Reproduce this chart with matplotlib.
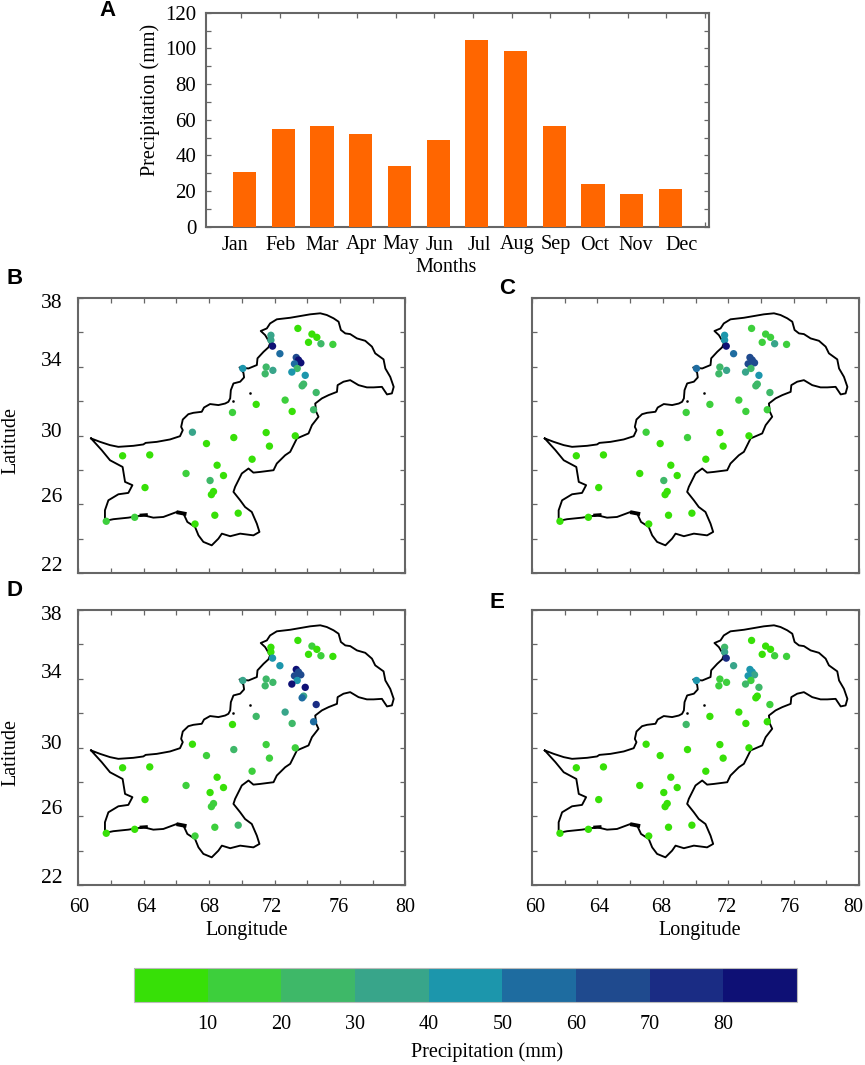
import matplotlib
matplotlib.use("Agg")
import matplotlib.pyplot as plt
from matplotlib.colors import ListedColormap, BoundaryNorm
from matplotlib.cm import ScalarMappable
from matplotlib.ticker import MultipleLocator

plt.rcParams['font.family'] = ['Liberation Serif', 'DejaVu Serif']

W, H = 865, 1065

# --- monthly bars ---
months = ["Jan", "Feb", "Mar", "Apr", "May", "Jun", "Jul", "Aug", "Sep", "Oct", "Nov", "Dec"]
monthly_precip = [30.5, 54.6, 56.4, 52.1, 34.0, 48.4, 104.7, 98.7, 56.4, 23.7, 18.5, 20.9]

# --- stations ---
station_lon = [73.43, 74.29, 74.59, 74.08, 74.84, 75.57, 71.78, 71.78, 71.88, 72.33,
               73.33, 73.47, 73.61, 73.22, 70.06, 71.49, 71.90, 71.43, 73.39, 73.06,
               73.88, 73.78, 73.69, 74.55, 72.65, 70.88, 73.08, 74.39, 69.43, 66.98,
               71.49, 73.27, 69.51, 67.84, 71.69, 70.63, 64.37, 62.71, 68.49, 66.59,
               68.88, 68.06, 64.08, 68.27, 68.14, 69.78, 68.35, 63.45, 61.71, 67.14]
station_lat = [36.23, 35.90, 35.71, 35.42, 35.34, 35.30, 35.83, 35.55, 35.20, 34.76,
               34.54, 34.39, 34.23, 34.17, 33.90, 33.98, 33.79, 33.59, 33.90, 33.69,
               33.50, 32.99, 32.89, 32.50, 32.06, 31.81, 31.40, 31.50, 31.34, 30.19,
               30.17, 29.98, 29.88, 29.53, 29.38, 28.62, 28.87, 28.82, 28.27, 27.79,
               27.67, 27.38, 26.97, 26.74, 26.56, 25.48, 25.36, 25.24, 25.01, 24.85]

precip_b = [8, 8, 8, 8, 25, 15, 35, 35, 85, 55,
            65, 85, 85, 55, 45, 25, 35, 25, 25, 45,
            45, 25, 25, 25, 18, 8, 8, 25, 18, 35,
            8, 8, 8, 8, 8, 8, 8, 8, 8, 18,
            8, 25, 8, 8, 8, 8, 8, 15, 15, 8]
precip_c = [15, 15, 15, 15, 35, 15, 45, 45, 85, 55,
            65, 65, 65, 65, 55, 25, 35, 25, 25, 35,
            45, 25, 25, 25, 18, 15, 18, 15, 18, 18,
            8, 8, 18, 8, 8, 8, 8, 8, 8, 8,
            8, 25, 8, 8, 8, 8, 8, 8, 8, 8]
precip_d = [8, 15, 8, 8, 18, 8, 8, 8, 45, 45,
            85, 65, 65, 65, 35, 25, 25, 25, 45, 85,
            85, 35, 55, 75, 35, 25, 25, 55, 8, 8,
            18, 18, 25, 18, 18, 18, 8, 8, 8, 18,
            8, 8, 8, 18, 18, 25, 18, 8, 8, 18]
precip_e = [8, 8, 8, 8, 18, 15, 25, 35, 75, 35,
            45, 45, 35, 45, 45, 18, 18, 18, 18, 25,
            25, 8, 8, 18, 8, 8, 8, 8, 25, 8,
            8, 8, 8, 8, 8, 8, 8, 8, 8, 8,
            8, 8, 8, 8, 8, 8, 8, 8, 8, 8]

# --- border of the country ---
border_lon = [60.78, 61.33, 61.94, 62.45, 63.37, 63.98, 64.12, 64.80, 65.61, 66.22,
              66.39, 66.29, 66.39, 66.73, 67.04, 67.55, 67.69, 68.06, 68.57, 68.98,
              69.18, 69.29, 69.33, 69.49, 69.90, 70.14, 70.10, 69.86, 70.41, 70.92,
              70.96, 71.33, 71.63, 71.73, 71.43, 71.16, 71.53, 71.73, 72.14, 72.96,
              73.57, 74.18, 74.80, 75.20, 75.61, 75.92, 76.06, 76.33, 76.63, 77.04,
              77.55, 77.96, 78.16, 78.67, 78.78, 79.08, 79.29, 79.18, 78.88, 78.57,
              78.06, 77.65, 77.14, 76.63, 76.22, 75.86, 75.82, 75.31, 74.90, 74.49,
              74.55, 74.69, 74.29, 74.08, 73.37, 72.96, 72.65, 72.14, 71.94, 71.12,
              70.71, 70.41, 70.00, 69.59, 69.49, 69.90, 70.20, 70.61, 70.92, 71.08,
              70.71, 69.90, 69.29, 68.78, 68.57, 68.16, 67.65, 67.35, 67.14, 66.67,
              66.43, 66.02, 65.20, 64.59, 63.98, 63.06, 62.14, 61.63, 61.63, 61.84,
              62.45, 63.06, 63.31, 62.86, 62.71, 61.94, 61.43, 60.78]
border_lat = [29.83, 29.63, 29.44, 29.34, 29.40, 29.48, 29.57, 29.63, 29.77, 29.96,
              30.31, 30.50, 30.93, 31.24, 31.32, 31.38, 31.63, 31.83, 31.77, 31.86,
              31.96, 32.16, 32.64, 33.03, 33.13, 33.38, 33.65, 33.96, 33.90, 34.10,
              34.49, 34.87, 35.13, 35.36, 35.84, 36.08, 36.23, 36.52, 36.76, 36.85,
              36.95, 37.05, 37.11, 37.01, 36.82, 36.62, 36.14, 35.94, 35.90, 35.65,
              35.51, 35.17, 34.78, 34.43, 33.90, 33.41, 32.83, 32.45, 32.39, 32.83,
              32.80, 32.80, 32.93, 33.22, 33.13, 32.93, 32.54, 32.35, 32.16, 31.86,
              31.38, 31.09, 30.60, 30.12, 29.83, 29.05, 28.85, 28.37, 27.98, 27.88,
              27.84, 28.08, 27.79, 27.01, 26.72, 26.23, 25.84, 25.55, 24.87, 24.39,
              24.19, 24.29, 24.14, 24.29, 24.00, 23.61, 23.81, 24.19, 24.68, 24.97,
              25.46, 25.55, 25.26, 25.22, 25.36, 25.22, 25.13, 25.03, 25.65, 26.23,
              26.58, 26.66, 27.11, 27.30, 28.17, 28.56, 29.15, 29.83]

levels = [0, 10, 20, 30, 40, 50, 60, 70, 80, 90]
level_colors = ['#37E007', '#3DCF3C', '#3EB868', '#38A58A', '#1C96AC',
                '#1E6CA0', '#1F4A8E', '#1A2C84', '#0E1075']
cmap = ListedColormap(level_colors)
norm = BoundaryNorm(levels, cmap.N)

FRAME = '#666666'
FS = 14.5


def axes_px(left, top, right, bottom):
    return fig.add_axes([left / W, 1 - bottom / H, (right - left) / W, (bottom - top) / H])


def fig_text(x, y, s, **kw):
    fig.text(x / W, 1 - y / H, s, **kw)


def frame(ax):
    for sp in ax.spines.values():
        sp.set_color(FRAME)
        sp.set_linewidth(1.5)


fig = plt.figure(figsize=(W / 100, H / 100), dpi=100, facecolor='white')

# ---- panel A ----
ax = axes_px(206, 12.7, 709, 226.7)
bar_pos = [i + 1.1 for i in range(12)]
ax.bar(bar_pos, monthly_precip, width=0.6, color='#FF6600', zorder=3)
ax.set_xlim(0.1, 13.1)
ax.set_ylim(0, 120)
ax.set_xticks(range(1, 14))
ax.set_xticklabels([])
ax.yaxis.set_major_locator(MultipleLocator(20))
ax.yaxis.set_minor_locator(MultipleLocator(10))
ax.tick_params(axis='both', which='both', direction='in', top=True, right=True,
               length=3.5, width=0.9, color=FRAME)
ax.tick_params(axis='y', which='major', labelsize=FS + 0.5, pad=7)
frame(ax)
# the month names sit by hand, not quite under the ticks
month_label_px = [234.7, 280.7, 321.7, 361, 401, 440, 479, 517, 556, 595, 636, 681.7]
for m, px in zip(months, month_label_px):
    fig_text(px, 245, m, ha='center', va='center', fontsize=FS)
fig_text(446, 268, "Months", ha='center', va='center', fontsize=FS)
fig_text(150, 100, "Precipitation (mm)", ha='center', va='center', rotation=90, fontsize=FS)

# ---- map panels ----
panels = [("B", precip_b, 78.3, 298, True, False),
          ("C", precip_c, 532, 298, False, False),
          ("D", precip_d, 78.3, 610, True, True),
          ("E", precip_e, 532, 610, False, True)]
ylabel_lat = [37.7, 34.3, 30.15, 26.4, 22.4]
ylabel_txt = ["38", "34", "30", "26", "22"]
xlabel_txt = ["60", "64", "68", "72", "76", "80"]
xlabel_px = {True: [79, 146, 209, 272, 339, 405], False: [535, 599, 661, 727, 790, 853]}

for name, vals, left, top, show_y, show_x in panels:
    ax = axes_px(left, top, left + 327, top + 275)
    ax.plot(border_lon, border_lat, color='black', lw=1.35, zorder=2, solid_joinstyle='round')
    ax.plot([63.85, 64.15], [25.36, 25.38], color='black', lw=2.4, zorder=2)
    ax.plot([66.12, 66.5], [25.52, 25.45], color='black', lw=2.8, zorder=2)
    ax.plot([70.51, 69.49], [32.5, 31.98], ls='none', marker='s', ms=0.8, color='black', zorder=2)
    ax.scatter(station_lon, station_lat, c=vals, cmap=cmap, norm=norm, s=28,
               linewidths=0, zorder=3)
    ax.set_xlim(60, 80)
    ax.set_ylim(22, 38)
    ax.set_xticks(range(60, 81, 2))
    ax.set_yticks(range(22, 39, 2))
    ax.set_xticklabels([])
    ax.set_yticklabels([])
    ax.tick_params(axis='both', direction='in', top=True, right=True,
                   length=3.5, width=0.9, color=FRAME)
    frame(ax)
    if show_y:
        for lat, t in zip(ylabel_lat, ylabel_txt):
            ax.text(-0.048, (lat - 22) / 16, t, transform=ax.transAxes, ha='right',
                    va='center', fontsize=FS + 1)
        fig_text(11, top + 143, "Latitude", ha='center', va='center', rotation=90, fontsize=FS)
    if show_x:
        for t, px in zip(xlabel_txt, xlabel_px[show_y]):
            fig_text(px, 907, t, ha='center', va='center', fontsize=FS)
        fig_text(left + 168, 931, "Longitude", ha='center', va='center', fontsize=FS)

# panel letters
for letter, x, y in [("A", 108, 11), ("B", 15, 278), ("C", 507, 289), ("D", 15, 591), ("E", 497, 603)]:
    fig_text(x, y, letter, ha='center', va='center', fontsize=16, fontweight='bold',
             family='Liberation Sans')

# ---- colour bar ----
cax = axes_px(134, 968, 797, 1001.5)
cb = fig.colorbar(ScalarMappable(norm=norm, cmap=cmap), cax=cax, orientation='horizontal',
                  ticks=levels[1:-1], spacing='uniform')
cb.ax.minorticks_off()
cb.ax.tick_params(length=0, labelsize=FS, pad=10)
cb.outline.set_edgecolor('#bbbbbb')
cb.outline.set_linewidth(0.8)
fig_text(487, 1052, "Precipitation (mm)", ha='center', va='center', fontsize=FS)

fig.savefig("out.png", dpi=100)
